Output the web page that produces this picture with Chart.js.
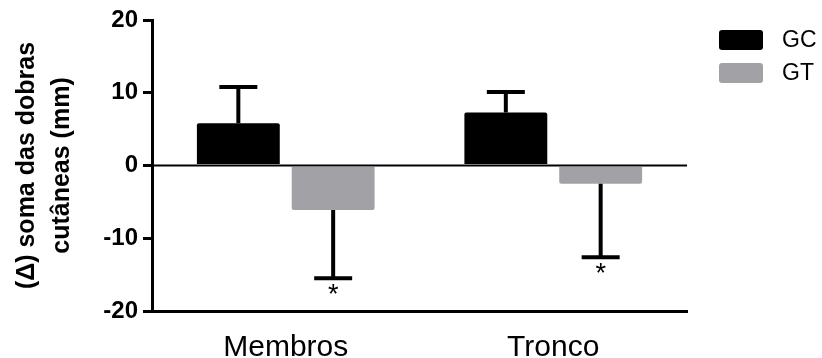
<!DOCTYPE html>
<html>
<head>
<meta charset="utf-8">
<script src="https://cdn.jsdelivr.net/npm/chart.js@4"></script>
<style>
  html, body { margin: 0; padding: 0; background: #fff; }
  #wrap { width: 822px; height: 358px; }
</style>
</head>
<body>
<div id="wrap"><canvas id="chart"></canvas></div>
<script>
// values
const categories = ['Membros', 'Tronco']
const seriesNames = ['GC', 'GT']
const gcValues = [5.8, 7.3]
const gtValues = [-6.1, -2.5]
const gcErrors = [5.0, 2.8]
const gtErrors = [9.4, 10.1]
const gcMarks = ['', '']
const gtMarks = ['*', '*']
const yTicks = [-20, -10, 0, 10, 20]

const black = '#000000'
const grey = '#a2a2a6'

// one-sided error bars, away from zero, plus the significance stars
const errorBars = {
  id: 'errorBars',
  afterDatasetsDraw(chart) {
    const ctx = chart.ctx
    const y = chart.scales.y
    ctx.save()
    chart.data.datasets.forEach((ds, i) => {
      const meta = chart.getDatasetMeta(i)
      meta.data.forEach((bar, j) => {
        const v = ds.data[j]
        const end = v >= 0 ? v + ds.errors[j] : v - ds.errors[j]
        const ey = y.getPixelForValue(end)
        ctx.strokeStyle = black
        ctx.lineWidth = 4
        ctx.beginPath()
        ctx.moveTo(bar.x, bar.y)
        ctx.lineTo(bar.x, ey)
        ctx.moveTo(bar.x - 19, ey)
        ctx.lineTo(bar.x + 19, ey)
        ctx.stroke()
        if (ds.marks[j]) {
          ctx.fillStyle = black
          ctx.font = '27px "Liberation Sans", Arial, sans-serif'
          ctx.textAlign = 'center'
          ctx.textBaseline = 'top'
          ctx.fillText(ds.marks[j], bar.x, ey + 4)
        }
      })
    })
    ctx.restore()
  }
}

// zero line across the plot
const zeroLine = {
  id: 'zeroLine',
  afterDatasetsDraw(chart) {
    const ctx = chart.ctx
    const a = chart.chartArea
    const y0 = chart.scales.y.getPixelForValue(0)
    ctx.save()
    ctx.strokeStyle = black
    ctx.lineWidth = 2
    ctx.beginPath()
    ctx.moveTo(a.left, y0)
    ctx.lineTo(a.right, y0)
    ctx.stroke()
    ctx.restore()
  }
}

// legend on the right, as in the original
const sideLegend = {
  id: 'sideLegend',
  afterDraw(chart) {
    const ctx = chart.ctx
    const a = chart.chartArea
    ctx.save()
    ctx.font = '23px "Liberation Sans", Arial, sans-serif'
    ctx.textBaseline = 'middle'
    ctx.textAlign = 'left'
    chart.data.datasets.forEach((ds, i) => {
      const bx = a.right + 32
      const by = 30 + i * 33
      ctx.fillStyle = ds.backgroundColor
      ctx.beginPath()
      ctx.roundRect(bx, by, 44, 20, 3)
      ctx.fill()
      ctx.fillStyle = black
      ctx.fillText(ds.label, bx + 63, by + 11)
    })
    ctx.restore()
  }
}

new Chart(document.getElementById('chart'), {
  type: 'bar',
  data: {
    labels: categories,
    datasets: [
      { label: seriesNames[0], data: gcValues, errors: gcErrors, marks: gcMarks,
        backgroundColor: black },
      { label: seriesNames[1], data: gtValues, errors: gtErrors, marks: gtMarks,
        backgroundColor: grey }
    ]
  },
  options: {
    responsive: true,
    maintainAspectRatio: false,
    animation: false,
    layout: { padding: { top: 20, right: 135, bottom: 0, left: 0 } },
    datasets: {
      bar: { categoryPercentage: 0.709, barPercentage: 0.874, borderRadius: 2 }
    },
    plugins: {
      legend: { display: false },
      tooltip: { enabled: false }
    },
    scales: {
      x: {
        grid: { display: false },
        border: { display: true, color: black, width: 3 },
        ticks: {
          color: black,
          padding: 11,
          font: { family: '"Liberation Sans", Arial, sans-serif', size: 30 }
        },
        afterFit(scale) { scale.height = 47 }
      },
      y: {
        min: -20,
        max: 20,
        afterBuildTicks(scale) { scale.ticks = yTicks.map(v => ({ value: v })) },
        grid: {
          drawOnChartArea: false,
          drawTicks: true,
          tickLength: 9,
          color: black,
          lineWidth: 3
        },
        border: { display: true, color: black, width: 3 },
        ticks: {
          color: black,
          padding: 5,
          font: { family: '"Liberation Sans", Arial, sans-serif', size: 24, weight: 'bold' }
        },
        title: {
          display: true,
          text: ['(\u0394) soma das dobras', 'cut\u00e2neas (mm)'],
          color: black,
          padding: { top: 10, bottom: 4 },
          font: { family: '"Liberation Sans", Arial, sans-serif', size: 25, weight: 'bold', lineHeight: 1.4 }
        },
        afterFit(scale) { scale.width = 152 }
      }
    }
  },
  plugins: [zeroLine, errorBars, sideLegend]
})
</script>
</body>
</html>
